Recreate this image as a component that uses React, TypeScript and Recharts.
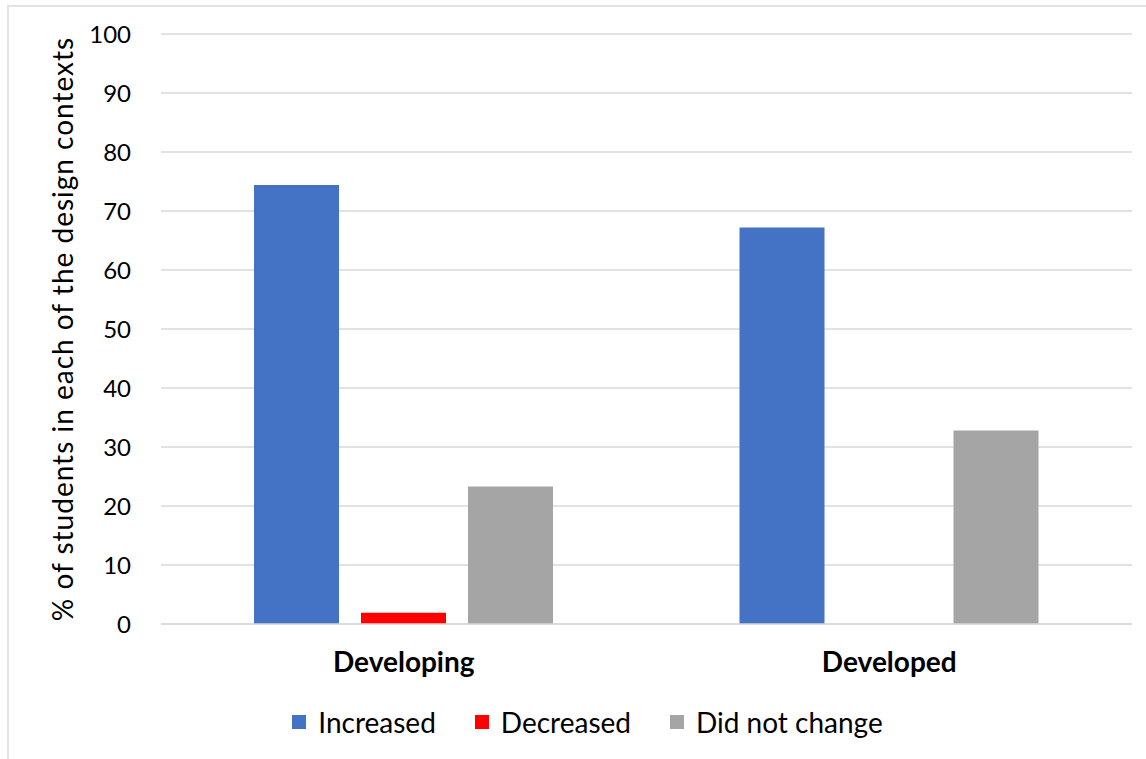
import React from "react"
import {
  BarChart,
  Bar,
  XAxis,
  YAxis,
  CartesianGrid,
  Legend,
} from "recharts"

// design contexts on the x axis
const contexts = ["Developing", "Developed"]

// % of students per outcome, one entry per context
const increased = [74.4, 67.2]
const decreased = [1.9, 0]
const didNotChange = [23.3, 32.8]

const yTicks = [0, 10, 20, 30, 40, 50, 60, 70, 80, 90, 100]

const series = [
  { key: "increased", name: "Increased", color: "#4472C4" },
  { key: "decreased", name: "Decreased", color: "#FF0000" },
  { key: "didNotChange", name: "Did not change", color: "#A5A5A5" },
]

const data = contexts.map((context, i) => ({
  context,
  increased: increased[i],
  decreased: decreased[i],
  didNotChange: didNotChange[i],
}))

const FONT = "Lato, 'Open Sans', sans-serif"

function ContextTick({ x, y, payload }: any) {
  return (
    <text
      x={x}
      y={y}
      dy={40}
      textAnchor="middle"
      fontFamily={FONT}
      fontSize={28}
      fontWeight={700}
      fill="#000"
    >
      {payload.value}
    </text>
  )
}

function AxisTitle({ viewBox }: any) {
  const cy = viewBox.y + viewBox.height / 2
  const cx = 62
  return (
    <text
      x={cx}
      y={cy}
      transform={`rotate(-90, ${cx}, ${cy})`}
      textAnchor="middle"
      dominantBaseline="central"
      fontFamily={FONT}
      fontSize={28}
      letterSpacing={1}
      fill="#000"
    >
      % of students in each of the design contexts
    </text>
  )
}

function LegendRow() {
  return (
    <div
      style={{
        display: "flex",
        justifyContent: "center",
        alignItems: "center",
        height: 50,
        paddingLeft: 29,
        fontFamily: FONT,
        fontSize: 28,
        color: "#000",
      }}
    >
      {series.map((s, i) => (
        <div
          key={s.key}
          style={{ display: "flex", alignItems: "center", marginRight: i < series.length - 1 ? 39 : 0 }}
        >
          <span style={{ width: 14, height: 14, background: s.color, marginRight: 12 }} />
          <span>{s.name}</span>
        </div>
      ))}
    </div>
  )
}

export default function App() {
  return (
    <div style={{ position: "fixed", left: 0, top: 0, width: 1146, height: 759, background: "#fff" }}>
      <div
        style={{
          position: "absolute",
          left: 7,
          top: 5,
          width: 1139,
          height: 754,
          borderTop: "2px solid #e2e2e2",
          borderLeft: "2px solid #e2e2e2",
          boxSizing: "border-box",
        }}
      />
      <BarChart
        width={1146}
        height={759}
        data={data}
        margin={{ top: 34, right: 14, left: 61, bottom: 12 }}
        barCategoryGap={93}
        barGap={22}
      >
        <CartesianGrid vertical={false} stroke="#d9d9d9" strokeWidth={1.5} />
        <XAxis
          dataKey="context"
          height={73}
          axisLine={{ stroke: "#d9d9d9", strokeWidth: 1.5 }}
          tickLine={false}
          tick={<ContextTick />}
        />
        <YAxis
          width={100}
          domain={[0, 100]}
          ticks={yTicks}
          axisLine={false}
          tickLine={false}
          tickSize={0}
          tickMargin={30}
          tick={{ fontFamily: FONT, fontSize: 24, fill: "#000" }}
          label={<AxisTitle />}
        />
        <Legend
          verticalAlign="bottom"
          wrapperStyle={{ left: 0, width: 1146 }}
          content={<LegendRow />}
        />
        {series.map((s) => (
          <Bar
            key={s.key}
            dataKey={s.key}
            name={s.name}
            fill={s.color}
            isAnimationActive={false}
          />
        ))}
      </BarChart>
    </div>
  )
}
